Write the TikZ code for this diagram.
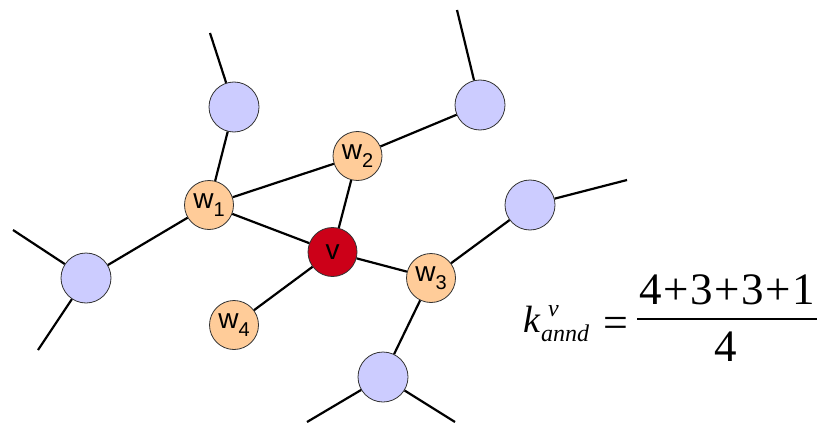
\documentclass[tikz,border=0pt]{standalone}
\usepackage{fontspec}
\setmainfont{Liberation Serif}
\newfontfamily\arial{Liberation Sans}
\definecolor{bluefill}{HTML}{CCCCFF}
\definecolor{orangefill}{HTML}{FFCC99}
\definecolor{redfill}{HTML}{CC0018}
\newcommand{\wlab}[1]{w\raisebox{-8pt}{\fontsize{20}{20}\selectfont #1}}
\begin{document}
\begin{tikzpicture}[x=1pt,y=-1pt,
  edge/.style={line width=2.2pt},
  outer/.style={circle, draw=black!80, line width=0.8pt, fill=bluefill, minimum size=50pt, inner sep=0pt},
  wnode/.style={circle, draw=black!80, line width=0.8pt, fill=orangefill, minimum size=49pt, inner sep=0pt, font=\arial\fontsize{28}{28}\selectfont},
  vnode/.style={wnode, fill=redfill},
  ftext/.style={inner sep=0pt, anchor=base west}]
\useasboundingbox (0,0) rectangle (821,425);
% nodes
\node[vnode] (v) at (332.5,252) {v};
\node[wnode] (w1) at (209,205) {\wlab{1}};
\node[wnode] (w2) at (357.5,156) {\wlab{2}};
\node[wnode] (w3) at (431,278) {\wlab{3}};
\node[wnode] (w4) at (234,325) {\wlab{4}};
\node[outer] (a) at (234,107) {};
\node[outer] (b) at (480,105) {};
\node[outer] (c) at (86,278) {};
\node[outer] (d) at (530,205) {};
\node[outer] (e) at (383,377) {};
% free ends
\coordinate (a1) at (210,33);
\coordinate (b1) at (457,10);
\coordinate (c1) at (13,230);
\coordinate (c2) at (38,350);
\coordinate (d1) at (627,180);
\coordinate (e1) at (307,422);
\coordinate (e2) at (455,422);
% edges
\draw[edge] (a) -- (a1);
\draw[edge] (b) -- (b1);
\draw[edge] (c) -- (c1);
\draw[edge] (c) -- (c2);
\draw[edge] (d) -- (d1);
\draw[edge] (e) -- (e1);
\draw[edge] (e) -- (e2);
\draw[edge] (w1) -- (a);
\draw[edge] (w1) -- (c);
\draw[edge] (w1) -- (w2);
\draw[edge] (w1) -- (v);
\draw[edge] (w2) -- (b);
\draw[edge] (w2) -- (v);
\draw[edge] (v) -- (w3);
\draw[edge] (v) -- (w4);
\draw[edge] (w3) -- (d);
\draw[edge] (w3) -- (e);
% formula
\node[ftext, font=\fontsize{38}{38}\selectfont\itshape] (k) at (523,332) {k};
\node[ftext, font=\fontsize{24}{24}\selectfont\itshape] (ksup) at (548,316) {v};
\node[ftext, font=\fontsize{24}{24}\selectfont\itshape] (ksub) at (541,341) {annd};
\node[ftext, anchor=base, font=\fontsize{44}{44}\selectfont] (eq) at (616,337) {=};
\coordinate (bar1) at (637,319);
\coordinate (bar2) at (817,319);
\draw[line width=2pt] (bar1) -- (bar2);
\node[ftext, anchor=base, font=\fontsize{45}{45}\selectfont] (num) at (727,304) {4\hspace{1.5pt}+\hspace{1.5pt}3\hspace{1.5pt}+\hspace{1.5pt}3\hspace{1.5pt}+\hspace{1.5pt}1};
\node[ftext, anchor=base, font=\fontsize{45}{45}\selectfont] (den) at (726,361) {4};
\end{tikzpicture}
\end{document}
